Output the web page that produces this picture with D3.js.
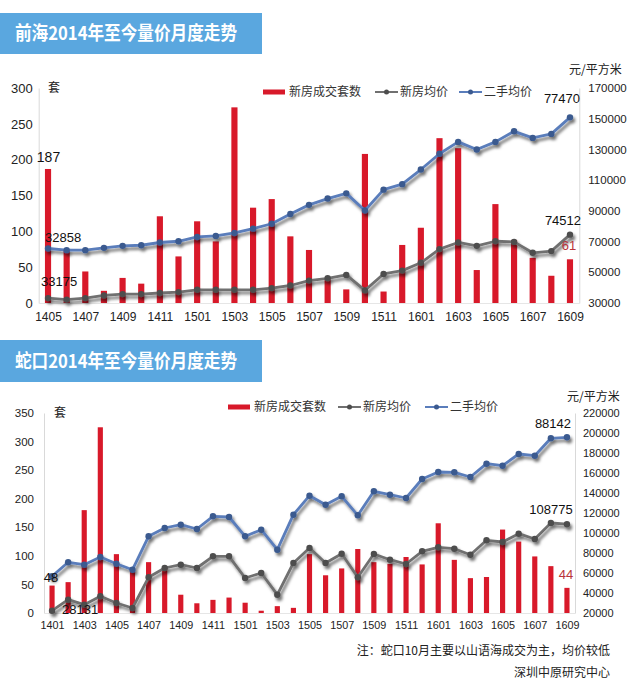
<!DOCTYPE html>
<html><head><meta charset="utf-8">
<script src="https://cdn.jsdelivr.net/npm/d3@7"></script>
<style>body{margin:0;background:#fff}svg{display:block}</style>
</head><body>
<svg id="c" width="640" height="688"></svg>
<script>
// ---------- DATA ----------
const qhMonths = ["1405","1406","1407","1408","1409","1410","1411","1412",
  "1501","1502","1503","1504","1505","1506","1507","1508","1509","1510","1511","1512",
  "1601","1602","1603","1604","1605","1606","1607","1608","1609"];
const qhUnits = [187,75,44,17,35,27,121,65,114,86,273,133,145,93,74,33,19,208,16,81,105,230,216,46,138,88,63,38,61];
const qhNewPrice = [33175,32200,33200,34900,35800,35800,36500,37100,38600,38600,38600,38600,39700,41400,44600,46100,48300,38200,48900,51100,56200,65100,69400,67200,70200,69800,62700,63800,74512];
const qhResalePrice = [65500,64400,64400,65900,67200,67600,69400,70200,73000,73700,75600,78400,81600,88000,93900,98000,101400,90200,103800,107400,116900,127200,134900,130000,134900,141800,137500,140100,150900];
const qhLeftTicks = [0,50,100,150,200,250,300];
const qhRightTicks = [30000,50000,70000,90000,110000,130000,150000,170000];
const qhResaleLabels = ["32858","77470"];

const skMonths = ["1401","1402","1403","1404","1405","1406","1407","1408","1409","1410","1411","1412",
  "1501","1502","1503","1504","1505","1506","1507","1508","1509","1510","1511","1512",
  "1601","1602","1603","1604","1605","1606","1607","1608","1609"];
const skUnits = [48,54,180,325,103,73,89,79,32,17,23,27,18,4,12,9,103,66,78,112,89,86,98,85,157,93,61,63,146,125,99,82,44];
const skNewPrice = [22300,33300,28300,36700,30000,25000,55700,65000,68300,65000,76700,76700,
  55000,60000,38300,70000,85000,70000,79300,55700,79000,73300,69000,81700,
  85700,84300,78300,92700,91000,99300,94000,110000,108775];
const skResalePrice = [56700,70700,68300,76000,69300,63300,96700,105000,108300,104000,116700,116000,
  96700,103300,83300,118300,137300,128300,136700,117700,141700,138300,135000,154000,
  161000,160700,156000,169300,167300,179000,177300,194700,195700];
const skLeftTicks = [0,50,100,150,200,250,300,350];
const skRightTicks = [20000,40000,60000,80000,100000,120000,140000,160000,180000,200000,220000];
const skNewFirstLabel = "28131";
const skResaleLabels = ["88142"];

const seriesNames = ["新房成交套数","新房均价","二手均价"];

// ---------- STYLE ----------
const CJK = "'Noto Sans CJK SC','Noto Sans',sans-serif";
const NUM = "'Liberation Sans',Arial,sans-serif";
const RED = "#D8192A", GRAY = "#707070", BLUE = "#5A7DBB";
const svg = d3.select("#c");
const defs = svg.append("defs");
const f = defs.append("filter").attr("id","sh").attr("x","-10%").attr("y","-40%").attr("width","130%").attr("height","200%");
f.append("feDropShadow").attr("dx",2).attr("dy",3).attr("stdDeviation",1.6).attr("flood-color","#000").attr("flood-opacity",0.55);

function banner(y, h, title){
  svg.append("rect").attr("x",0).attr("y",y).attr("width",262).attr("height",h).attr("fill","#5AA7DF");
  svg.append("text").attr("x",15).attr("y",y+h/2).attr("dy","0.36em")
    .attr("fill","#fff").attr("font-family",CJK).attr("font-weight","bold").attr("font-size",19)
    .attr("textLength",222).attr("lengthAdjust","spacingAndGlyphs").text(title);
}

function panel(o){
  const g = svg.append("g");
  const x = d3.scalePoint().domain(o.months).range(o.xRange).padding(0.5);
  const step = x.step();
  const yL = d3.scaleLinear().domain([0, d3.max(o.leftTicks)]).range(o.yRange);
  const yR = d3.scaleLinear().domain(d3.extent(o.rightTicks)).range(o.yRange);

  // axes
  const ax = (sel, axis, fs, fam) => {
    sel.call(axis);
    sel.select(".domain").attr("stroke","#d9d9d9");
    sel.selectAll("text").attr("font-size",fs).attr("font-family",fam).attr("fill","#222");
  };
  ax(g.append("g").attr("transform",`translate(${o.xRange[0]},0)`),
     d3.axisLeft(yL).tickValues(o.leftTicks).tickSize(0).tickPadding(o.lPad).tickFormat(d3.format("d")), o.lFs, NUM);
  ax(g.append("g").attr("transform",`translate(${o.xRange[1]},0)`),
     d3.axisRight(yR).tickValues(o.rightTicks).tickSize(0).tickPadding(o.rPad).tickFormat(d3.format("d")), o.rFs, NUM);
  const xa = g.append("g").attr("transform",`translate(0,${o.yRange[0]})`);
  ax(xa, d3.axisBottom(x).tickValues(o.months.filter((d,i)=>i%2===0)).tickSize(0).tickPadding(o.xPad), o.xFs, NUM);
  xa.select(".domain").attr("stroke","#e6e6e6");

  // bars
  const bw = step*o.barFrac;
  g.append("g").selectAll("rect").data(o.units).join("rect")
    .attr("x",(d,i)=>x(o.months[i])-bw/2).attr("width",bw)
    .attr("y",d=>yL(d)).attr("height",d=>yL(0)-yL(d)).attr("fill",RED);

  // lines
  const drawLine = (vals, col, mk) => {
    const lg = g.append("g").attr("filter","url(#sh)");
    lg.append("path").datum(vals)
      .attr("d", d3.line().x((d,i)=>x(o.months[i])).y(d=>yR(d)))
      .attr("fill","none").attr("stroke",col).attr("stroke-width",2.8).attr("stroke-linejoin","round");
    lg.selectAll("circle").data(vals).join("circle")
      .attr("cx",(d,i)=>x(o.months[i])).attr("cy",d=>yR(d)).attr("r",3.2).attr("fill",mk);
  };
  drawLine(o.newPrice, GRAY, "#4d4d4d");
  drawLine(o.resale, BLUE, "#3b5a8f");

  // legend
  const L = o.legend;
  g.append("rect").attr("x",L.x0).attr("y",L.y-2.5).attr("width",22).attr("height",5).attr("fill",RED);
  g.append("text").attr("x",L.x0+26).attr("y",L.y).attr("dy","0.36em").text(seriesNames[0]);
  [[L.x1,GRAY,"#4d4d4d",seriesNames[1]],[L.x2,BLUE,"#3b5a8f",seriesNames[2]]].forEach(([xx,c,m,t])=>{
    g.append("line").attr("x1",xx).attr("x2",xx+23).attr("y1",L.y).attr("y2",L.y).attr("stroke",c).attr("stroke-width",2);
    g.append("circle").attr("cx",xx+11.5).attr("cy",L.y).attr("r",2.5).attr("fill",m);
    g.append("text").attr("x",xx+25).attr("y",L.y).attr("dy","0.36em").text(t);
  });
  g.selectAll("text:not(.tick text)").filter(function(){return !this.closest(".tick");})
    .attr("font-family",CJK).attr("font-size",12).attr("fill","#333");

  // unit labels
  g.append("text").attr("x",o.taoX).attr("y",yL(d3.max(o.leftTicks))).attr("dy","0.36em")
    .attr("font-family",CJK).attr("font-size",12).attr("fill","#222").attr("text-anchor","middle").text("套");
  g.append("text").attr("x",o.unitX).attr("y",o.unitY).attr("dy","0.36em")
    .attr("font-family",CJK).attr("font-size",12).attr("fill","#222").text("元/平方米");

  // data labels
  o.labels.forEach(l=>{
    const xv = x(o.months[l.i]);
    const yv = l.s==="u" ? yL(o.units[l.i]) : (l.s==="n" ? yR(o.newPrice[l.i]) : yR(o.resale[l.i]));
    g.append("text").attr("x",xv+l.dx).attr("y",yv+l.dy).attr("text-anchor",l.a||"middle")
      .attr("font-family",NUM).attr("font-size",l.fs||13).attr("fill",l.c||"#111").text(l.t);
  });
  return g;
}

// ---------- TOP PANEL ----------
banner(13, 41, "前海2014年至今量价月度走势");
const nq = qhMonths.length-1;
panel({
  months: qhMonths, units: qhUnits, newPrice: qhNewPrice, resale: qhResalePrice,
  leftTicks: qhLeftTicks, rightTicks: qhRightTicks,
  xRange:[38.7,579.3], yRange:[303,88], barFrac:0.33,
  lPad:6, rPad:9, xPad:9, lFs:13, rFs:11.5, xFs:12,
  legend:{x0:263, x1:375, x2:459, y:92},
  taoX:54, unitX:569, unitY:70,
  labels:[
    {i:0, s:"u", t:String(qhUnits[0]), dx:0.5, dy:-7, fs:14},
    {i:0, s:"r", t:qhResaleLabels[0], dx:-3, dy:-6, a:"start"},
    {i:0, s:"n", t:String(qhNewPrice[0]), dx:-7, dy:-12, a:"start"},
    {i:nq, s:"r", t:qhResaleLabels[1], dx:-8, dy:-14},
    {i:nq, s:"n", t:String(qhNewPrice[nq]), dx:-7, dy:-10},
    {i:nq, s:"u", t:String(qhUnits[nq]), dx:-1, dy:-9, c:"#B8333A"}
  ]
});

// ---------- BOTTOM PANEL ----------
banner(340, 42, "蛇口2014年至今量价月度走势");
const ns = skMonths.length-1;
panel({
  months: skMonths, units: skUnits, newPrice: skNewPrice, resale: skResalePrice,
  leftTicks: skLeftTicks, rightTicks: skRightTicks,
  xRange:[44,575], yRange:[613,413], barFrac:0.32,
  lPad:10, rPad:8, xPad:8, lFs:11.5, rFs:11, xFs:10.8,
  legend:{x0:228, x1:338, x2:425, y:407},
  taoX:60, unitX:567, unitY:397,
  labels:[
    {i:0, s:"u", t:String(skUnits[0]), dx:-1, dy:-4},
    {i:0, s:"n", t:skNewFirstLabel, dx:10, dy:3, a:"start"},
    {i:ns, s:"r", t:skResaleLabels[0], dx:-14, dy:-9},
    {i:ns, s:"n", t:String(skNewPrice[ns]), dx:-16, dy:-10},
    {i:ns, s:"u", t:String(skUnits[ns]), dx:-1, dy:-9, c:"#B8333A"}
  ]
});

// notes
svg.append("text").attr("x",610).attr("y",651).attr("dy","0.36em").attr("text-anchor","end")
  .attr("font-family",CJK).attr("font-size",12).attr("fill","#222").text("注：蛇口10月主要以山语海成交为主，均价较低");
svg.append("text").attr("x",610).attr("y",673).attr("dy","0.36em").attr("text-anchor","end")
  .attr("font-family",CJK).attr("font-size",12).attr("fill","#222").text("深圳中原研究中心");
</script>
</body></html>
